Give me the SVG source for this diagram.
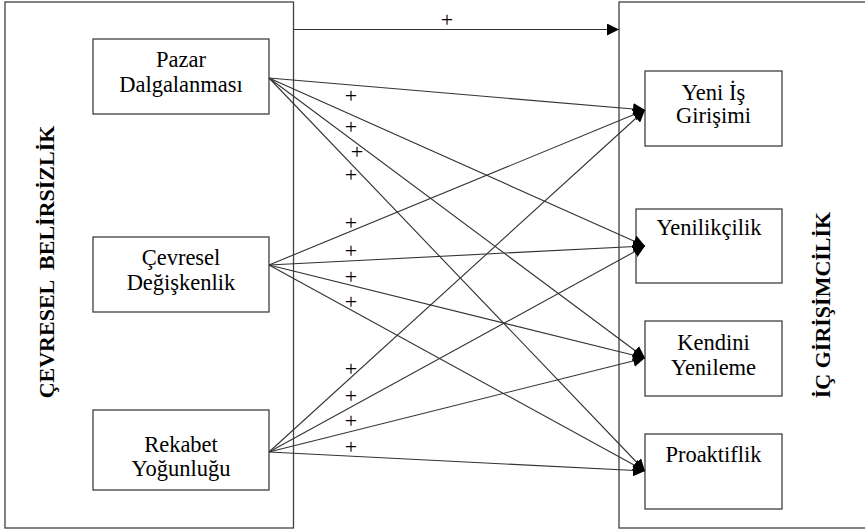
<svg xmlns="http://www.w3.org/2000/svg" width="865" height="531" viewBox="0 0 865 531">
<style>
.box{fill:#fff;stroke:#404040;stroke-width:1.3}
.t{font-family:"Liberation Serif","Times New Roman",serif;font-size:22.5px;fill:#000;text-anchor:middle}
.b{font-family:"Liberation Serif","Times New Roman",serif;font-size:22px;font-weight:bold;fill:#000;text-anchor:middle;white-space:pre}
.p{font-family:"Liberation Serif","Times New Roman",serif;font-size:22px;fill:#000;text-anchor:middle}
.c{stroke:#333;stroke-width:1.1;fill:none;marker-end:url(#ah)}
</style>
<defs>
<marker id="ah" markerUnits="userSpaceOnUse" markerWidth="13" markerHeight="12" refX="12" refY="6" orient="auto">
<path d="M0,0 L12,6 L0,12 Z" fill="#000"/>
</marker>
</defs>
<rect x="0" y="0" width="865" height="531" fill="#fff"/>
<g id="cevresel-belirsizlik">
<rect class="box" x="5" y="2" width="288.5" height="526"/>
<text class="b" transform="translate(53.5,262) rotate(-90)">ÇEVRESEL  BELİRSİZLİK</text>
</g>
<g id="ic-girisimcilik">
<rect class="box" x="619" y="2" width="260" height="526"/>
<text class="b" transform="translate(830,305) rotate(-90)">İÇ GİRİŞİMCİLİK</text>
</g>
<g id="pazar">
<rect class="box" x="93" y="39" width="176" height="75"/>
<text class="t" x="181" y="67">Pazar</text>
<text class="t" x="181" y="92">Dalgalanması</text>
</g>
<g id="cevresel">
<rect class="box" x="93" y="237" width="176" height="75"/>
<text class="t" x="181" y="265">Çevresel</text>
<text class="t" x="181" y="290">Değişkenlik</text>
</g>
<g id="rekabet">
<rect class="box" x="93" y="410" width="176" height="80"/>
<text class="t" x="181" y="452">Rekabet</text>
<text class="t" x="181" y="476">Yoğunluğu</text>
</g>
<g id="yeni-is">
<rect class="box" x="645" y="71" width="137" height="75"/>
<text class="t" x="713.5" y="100">Yeni İş</text>
<text class="t" x="713.5" y="123">Girişimi</text>
</g>
<g id="yenilikcilik">
<rect class="box" x="636" y="209" width="146" height="74"/>
<text class="t" x="709" y="235">Yenilikçilik</text>
</g>
<g id="kendini">
<rect class="box" x="645" y="321" width="137" height="75"/>
<text class="t" x="713.5" y="350">Kendini</text>
<text class="t" x="713.5" y="375">Yenileme</text>
</g>
<g id="proaktiflik">
<rect class="box" x="645" y="434" width="137" height="75"/>
<text class="t" x="713.5" y="462">Proaktiflik</text>
</g>
<g id="connectors">
<line class="c" x1="294" y1="29.5" x2="619" y2="29.5"/>
<line class="c" x1="269" y1="78" x2="645" y2="110"/>
<line class="c" x1="269" y1="78" x2="645" y2="246"/>
<line class="c" x1="269" y1="78" x2="645" y2="358"/>
<line class="c" x1="269" y1="78" x2="645" y2="471"/>
<line class="c" x1="269" y1="265" x2="645" y2="110"/>
<line class="c" x1="269" y1="265" x2="645" y2="246"/>
<line class="c" x1="269" y1="265" x2="645" y2="358"/>
<line class="c" x1="269" y1="265" x2="645" y2="471"/>
<line class="c" x1="269" y1="452" x2="645" y2="110"/>
<line class="c" x1="269" y1="452" x2="645" y2="246"/>
<line class="c" x1="269" y1="452" x2="645" y2="358"/>
<line class="c" x1="269" y1="452" x2="645" y2="471"/>
</g>
<g id="labels">
<text class="p" x="447" y="27">+</text>
<text class="p" x="351" y="103">+</text>
<text class="p" x="351" y="134">+</text>
<text class="p" x="357" y="159">+</text>
<text class="p" x="351" y="182">+</text>
<text class="p" x="351" y="230">+</text>
<text class="p" x="351" y="258">+</text>
<text class="p" x="351" y="284">+</text>
<text class="p" x="351" y="309">+</text>
<text class="p" x="351" y="376">+</text>
<text class="p" x="351" y="403">+</text>
<text class="p" x="351" y="428">+</text>
<text class="p" x="351" y="454">+</text>
</g>
</svg>
